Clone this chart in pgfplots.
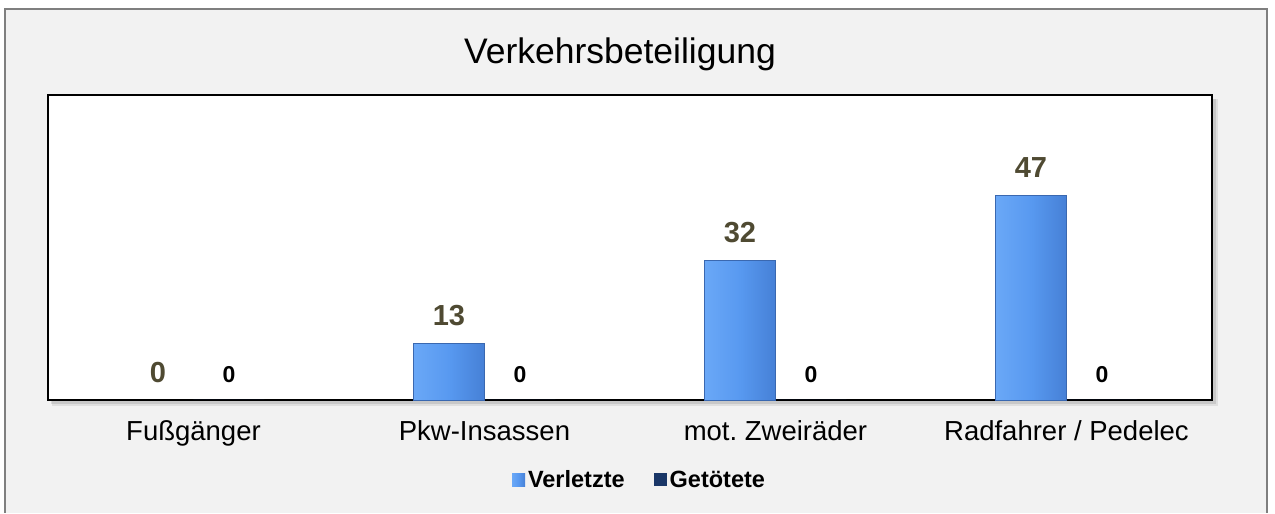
\documentclass[border=0pt]{standalone}
\usepackage{pgfplots}
\pgfplotsset{compat=1.18}
\usepackage{fontspec}
\setmainfont{Liberation Sans}
\definecolor{bgray}{HTML}{F2F2F2}
\definecolor{framegray}{HTML}{7F7F7F}
\definecolor{bmain}{HTML}{5899F0}
\definecolor{bleft}{HTML}{6AA8F7}
\definecolor{bright}{HTML}{4680D6}
\definecolor{bedge}{HTML}{3A68B0}
\definecolor{navy}{HTML}{1A3768}
\definecolor{lblcol}{HTML}{4F4A32}
\newcommand{\fs}[1]{\fontsize{#1}{#1}\selectfont}
\frenchspacing
\begin{document}
\begin{tikzpicture}
\fill[white] (0pt,0pt) rectangle (1275pt,513pt);
\fill[bgray] (5pt,0pt) rectangle (1267pt,504pt);
\draw[framegray, line width=1.2pt] (5pt,0pt) -- (5pt,504pt) -- (1267pt,504pt) -- (1267pt,0pt);
\fill[black, opacity=0.08] (52pt,107pt) rectangle (1218pt,414pt);
\fill[black, opacity=0.10] (51pt,109pt) rectangle (1216pt,414pt);
\begin{axis}[
  at={(48pt,113pt)}, anchor=south west,
  scale only axis, width=1164pt, height=305pt,
  xmin=-0.5, xmax=3.5, ymin=0, ymax=70,
  enlargelimits=false, clip=false,
  /pgf/number format/assume math mode=true,
  axis line style={black, line width=1.6pt},
  axis background/.style={fill=white},
  ytick=\empty,
  xtick={0,1,2,3},
  xticklabels={Fußgänger,Pkw-Insassen,mot.\ Zweiräder,Radfahrer / Pedelec},
  major tick length=0pt,
  xticklabel style={font=\fs{27.5}, anchor=base, yshift=-41pt},
  title={Verkehrsbeteiligung},
  title style={at={(0.4914,1)}, anchor=base, yshift=26pt, font=\fs{35.5}},
  ybar=0pt, bar width=71pt,
  nodes near coords,
  every node near coord/.append style={anchor=south, inner sep=0pt, yshift=17pt},
  legend style={at={(0.5086,-0.262)}, anchor=center, draw=none, fill=none,
    font=\bfseries\fs{23.5}, legend columns=-1,
    nodes={inner sep=3pt},
    /tikz/every even column/.append style={column sep=26pt}},
]
\addplot[left color=bleft, right color=bright, middle color=bmain, draw=none,
  bar shift=-35.5pt,
  every node near coord/.append style={font=\bfseries\fs{29}, text=lblcol},
  legend image code/.code={\fill[bmain] (0pt,-6.5pt) rectangle (13pt,6.5pt);}] coordinates {(0,0)};
\addlegendentry{Verletzte}
\addplot[left color=bleft, right color=bright, middle color=bmain, draw=bedge, line width=0.6pt,
  bar shift=-35.5pt, forget plot,
  every node near coord/.append style={font=\bfseries\fs{29}, text=lblcol}] coordinates {(1,13)};
\addplot[left color=bleft, right color=bright, middle color=bmain, draw=bedge, line width=0.6pt,
  bar shift=-35.5pt, forget plot,
  every node near coord/.append style={font=\bfseries\fs{29}, text=lblcol}] coordinates {(2,32)};
\addplot[left color=bleft, right color=bright, middle color=bmain, draw=bedge, line width=0.6pt,
  bar shift=-35.5pt, forget plot,
  every node near coord/.append style={font=\bfseries\fs{29}, text=lblcol}] coordinates {(3,47)};
\addplot[fill=navy, draw=none, bar shift=35.5pt,
  every node near coord/.append style={font=\bfseries\fs{23}, text=black},
  legend image code/.code={\fill[navy] (0pt,-6.5pt) rectangle (13pt,6.5pt);}]
  coordinates {(0,0) (1,0) (2,0) (3,0)};
\addlegendentry{Getötete}
\end{axis}
\end{tikzpicture}
\end{document}
